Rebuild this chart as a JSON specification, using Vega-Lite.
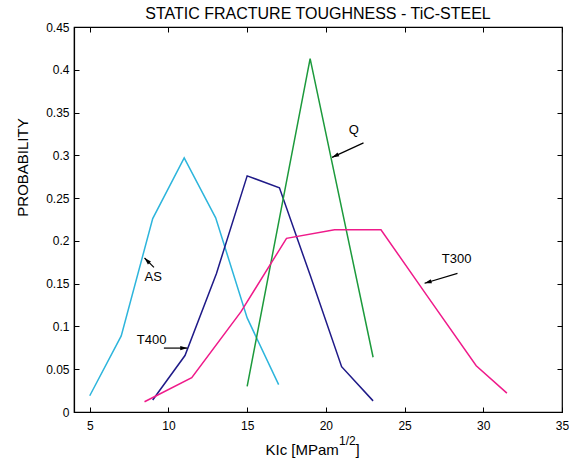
{
  "$schema": "https://vega.github.io/schema/vega-lite/v6.json",
  "width": 488,
  "height": 385,
  "autosize": {"type": "none"},
  "padding": {"left": 74, "top": 27, "right": 7, "bottom": 50},
  "background": "white",
  "title": {"text": "STATIC FRACTURE TOUGHNESS - TiC-STEEL", "font": "Liberation Sans", "fontSize": 16, "fontWeight": "normal", "color": "black", "offset": -1, "anchor": "middle"},
  "config": {
    "view": {"stroke": "black", "strokeWidth": 1.2},
    "axis": {"grid": false, "domainColor": "black", "tickColor": "black", "labelColor": "black", "titleColor": "black", "labelFont": "Liberation Sans", "titleFont": "Liberation Sans", "labelFontSize": 12, "titleFontSize": 15, "titleFontWeight": "normal", "tickSize": -5, "domainWidth": 1.2, "tickWidth": 1}
  },
  "datasets": {
    "curves": [
      {"series": "AS", "x": 5, "y": 0.019},
      {"series": "AS", "x": 7, "y": 0.089},
      {"series": "AS", "x": 9, "y": 0.226},
      {"series": "AS", "x": 11, "y": 0.297},
      {"series": "AS", "x": 13, "y": 0.227},
      {"series": "AS", "x": 15, "y": 0.11},
      {"series": "AS", "x": 17, "y": 0.032},
      {"series": "T400", "x": 9, "y": 0.014},
      {"series": "T400", "x": 11.05, "y": 0.066},
      {"series": "T400", "x": 13.05, "y": 0.162},
      {"series": "T400", "x": 15, "y": 0.276},
      {"series": "T400", "x": 17.05, "y": 0.262},
      {"series": "T400", "x": 19, "y": 0.16},
      {"series": "T400", "x": 21, "y": 0.053},
      {"series": "T400", "x": 23, "y": 0.013},
      {"series": "Q", "x": 15, "y": 0.030},
      {"series": "Q", "x": 19, "y": 0.413},
      {"series": "Q", "x": 23, "y": 0.064},
      {"series": "T300", "x": 8.48, "y": 0.012},
      {"series": "T300", "x": 11.48, "y": 0.040},
      {"series": "T300", "x": 14.6, "y": 0.117},
      {"series": "T300", "x": 17.5, "y": 0.203},
      {"series": "T300", "x": 20.55, "y": 0.213},
      {"series": "T300", "x": 23.5, "y": 0.213},
      {"series": "T300", "x": 26.5, "y": 0.134},
      {"series": "T300", "x": 29.55, "y": 0.054},
      {"series": "T300", "x": 31.5, "y": 0.022}
    ],
    "labels": [
      {"label": "Q", "x": 21.77, "y": 0.330},
      {"label": "AS", "x": 9.03, "y": 0.158},
      {"label": "T400", "x": 8.93, "y": 0.0844},
      {"label": "T300", "x": 28.31, "y": 0.1786}
    ],
    "arrows": [
      {"label": "Q", "x": 22.39, "y": 0.3146, "x2": 20.39, "y2": 0.2976, "angle": 245},
      {"label": "AS", "x": 9.08, "y": 0.169, "x2": 8.48, "y2": 0.180, "angle": 316},
      {"label": "T400", "x": 9.71, "y": 0.0747, "x2": 11.2, "y2": 0.0747, "angle": 90},
      {"label": "T300", "x": 28.36, "y": 0.162, "x2": 26.27, "y2": 0.1505, "angle": 253}
    ]
  },
  "resolve": {"axis": {"x": "independent", "y": "independent"}},
  "layer": [
    {
      "data": {"name": "curves"},
      "mark": {"type": "line", "strokeWidth": 1.5},
      "encoding": {
        "x": {"field": "x", "type": "quantitative", "scale": {"domain": [4, 35], "nice": false, "zero": false},
              "axis": {"values": [5, 10, 15, 20, 25, 30, 35], "title": "KIc [MPam", "labelPadding": 13, "labelFlush": false, "titleX": 191, "titleY": 42, "titleAlign": "left", "titleBaseline": "alphabetic"}},
        "y": {"field": "y", "type": "quantitative", "scale": {"domain": [0, 0.45], "nice": false},
              "axis": {"values": [0, 0.05, 0.1, 0.15, 0.2, 0.25, 0.3, 0.35, 0.4, 0.45], "format": ".2~f", "title": "PROBABILITY", "labelPadding": 10, "labelFlush": false, "titleX": -52, "titleY": 140, "titleAlign": "center", "titleBaseline": "middle", "titleAngle": -90}},
        "color": {"field": "series", "type": "nominal", "scale": {"domain": ["AS", "T400", "Q", "T300"], "range": ["#2db5dc", "#1f1a88", "#1c9a3c", "#ef1a8a"]}, "legend": null}
      }
    },
    {
      "data": {"name": "arrows"},
      "mark": {"type": "rule", "color": "black", "strokeWidth": 1.2},
      "encoding": {
        "x": {"field": "x", "type": "quantitative", "axis": {"orient": "top", "values": [5, 10, 15, 20, 25, 30, 35], "labels": false, "title": null, "domain": false}},
        "y": {"field": "y", "type": "quantitative", "axis": {"orient": "right", "values": [0, 0.05, 0.1, 0.15, 0.2, 0.25, 0.3, 0.35, 0.4, 0.45], "labels": false, "title": null, "domain": false}},
        "x2": {"field": "x2"},
        "y2": {"field": "y2"}
      }
    },
    {
      "data": {"name": "arrows"},
      "mark": {"type": "point", "filled": true, "color": "black", "opacity": 1, "shape": "M0,0L-0.3,1L0.3,1Z", "size": 200},
      "encoding": {
        "x": {"field": "x2", "type": "quantitative", "axis": {"orient": "bottom", "labels": false, "ticks": false, "domain": false, "title": "1/2", "titleFontSize": 12, "titleX": 264.5, "titleY": 32, "titleAlign": "left", "titleBaseline": "alphabetic"}},
        "y": {"field": "y2", "type": "quantitative", "axis": null},
        "angle": {"field": "angle", "type": "quantitative", "scale": null}
      }
    },
    {
      "data": {"name": "labels"},
      "mark": {"type": "text", "font": "Liberation Sans", "fontSize": 13, "color": "black", "align": "center", "baseline": "middle"},
      "encoding": {
        "x": {"field": "x", "type": "quantitative", "axis": {"orient": "bottom", "labels": false, "ticks": false, "domain": false, "title": "]", "titleX": 281, "titleY": 42, "titleAlign": "left", "titleBaseline": "alphabetic"}},
        "y": {"field": "y", "type": "quantitative", "axis": null},
        "text": {"field": "label"}
      }
    }
  ]
}
